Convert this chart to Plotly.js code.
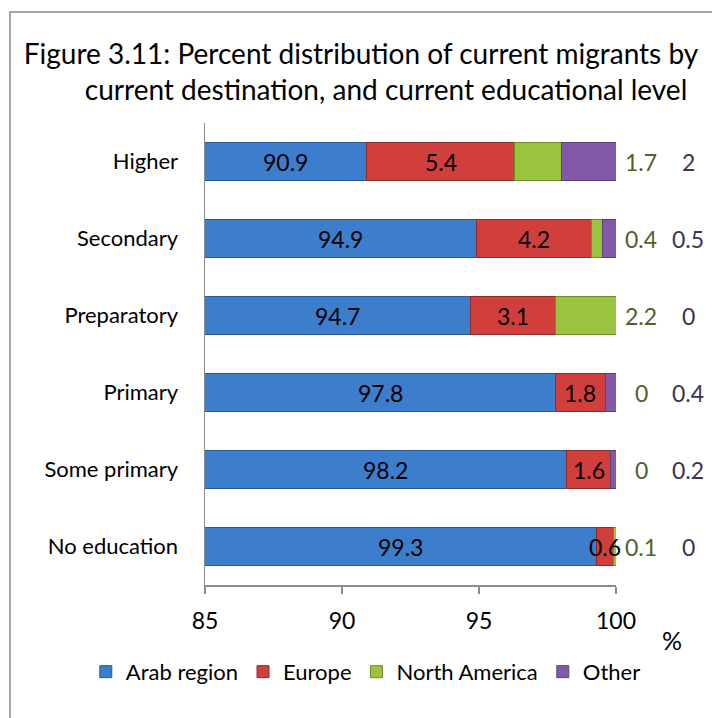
<!DOCTYPE html>
<html>
<head>
<meta charset="utf-8">
<script src="https://cdn.plot.ly/plotly-3.0.1.min.js"></script>
<style>
  html, body { margin: 0; padding: 0; background: #fff; }
  #wrap { position: relative; width: 712px; height: 718px; overflow: hidden; }
  #chart { width: 712px; height: 718px; }
  #frame { position: absolute; left: 9px; top: 11px; width: 800px; height: 800px;
           border: 2px solid #a6a6a6; pointer-events: none; }
</style>
</head>
<body>
<div id="wrap">
  <div id="chart"></div>
  <div id="frame"></div>
</div>
<script>
// Categories (top to bottom as shown)
const categories = ["Higher", "Secondary", "Preparatory", "Primary", "Some primary", "No education"];
// Series values (%)
const arabRegion   = [90.9, 94.9, 94.7, 97.8, 98.2, 99.3];
const europe       = [5.4, 4.2, 3.1, 1.8, 1.6, 0.6];
const northAmerica = [1.7, 0.4, 2.2, 0, 0, 0.1];
const other        = [2, 0.5, 0, 0.4, 0.2, 0];
const seriesNames  = ["Arab region", "Europe", "North America", "Other"];
const xTickVals    = [85, 90, 95, 100];
const axisMin = 85, axisMax = 100;

const FONT = "Lato, 'Open Sans', sans-serif";
const colors = ["#3C7DCC", "#D03F3B", "#9BC43E", "#8159A8"];
const lineColors = ["#2C5A94", "#8E2B28", "#6E8C2B", "#5A417A"];
const allSeries = [arabRegion, europe, northAmerica, other];

const traces = allSeries.map((vals, i) => ({
  type: "bar",
  orientation: "h",
  name: seriesNames[i],
  y: categories,
  x: vals,
  marker: { color: colors[i], line: { color: lineColors[i], width: 1 } },
  hoverinfo: "x+name"
}));

const annotations = [];
categories.forEach((c, k) => {
  annotations.push({
    xref: "x", yref: "y", x: (axisMin + arabRegion[k]) / 2, y: c,
    xanchor: "center", yanchor: "middle",
    text: String(arabRegion[k]), showarrow: false,
    font: { family: FONT, size: 23, color: "#000" }
  });
  annotations.push({
    xref: "x", yref: "y", x: arabRegion[k] + europe[k] / 2, y: c,
    xanchor: "center", yanchor: "middle",
    text: String(europe[k]), showarrow: false,
    font: { family: FONT, size: 23, color: "#000" }
  });
  annotations.push({
    xref: "paper", yref: "y", x: 1, y: c, xshift: 25,
    xanchor: "center", yanchor: "middle",
    text: String(northAmerica[k]), showarrow: false,
    font: { family: FONT, size: 23, color: "#4F6228" }
  });
  annotations.push({
    xref: "paper", yref: "y", x: 1, y: c, xshift: 72,
    xanchor: "center", yanchor: "middle",
    text: String(other[k]), showarrow: false,
    font: { family: FONT, size: 23, color: "#3F3151" }
  });
});
annotations.push({
  xref: "paper", yref: "paper", x: 1.136, y: -0.118,
  xanchor: "center", yanchor: "middle",
  text: "%", showarrow: false,
  font: { family: FONT, size: 25, color: "#000" }
});

const NB = "\u00A0";
const layout = {
  width: 712, height: 718,
  margin: { l: 205, r: 96, t: 123, b: 133 },
  paper_bgcolor: "#fff", plot_bgcolor: "#fff",
  barmode: "stack",
  bargap: 0.5,
  showlegend: true,
  font: { family: FONT, color: "#000" },
  title: {
    text: "Figure 3.11: Percent distribution of current migrants by<br>" + NB.repeat(7) + "current destination, and current educational level",
    font: { family: FONT, size: 28, color: "#000" },
    x: 0.507, xref: "container", xanchor: "center",
    y: 0.911, yref: "container", yanchor: "middle"
  },
  xaxis: {
    range: [axisMin, axisMax],
    tickvals: xTickVals,
    ticktext: xTickVals.map(String),
    showgrid: false, zeroline: false,
    showline: true, linecolor: "#8c8c8c", linewidth: 1.5,
    ticks: "outside", ticklen: 7, tickcolor: "#8c8c8c", tickwidth: 1.5,
    ticklabelstandoff: 8,
    tickfont: { family: FONT, size: 23, color: "#000" },
    fixedrange: true
  },
  yaxis: {
    type: "category",
    categoryorder: "array",
    categoryarray: categories,
    autorange: "reversed",
    showgrid: false, zeroline: false,
    showline: true, linecolor: "#8c8c8c", linewidth: 1.5,
    ticks: "",
    ticklabelstandoff: 21,
    tickfont: { family: FONT, size: 22, color: "#000" },
    fixedrange: true
  },
  legend: {
    orientation: "h",
    x: -0.29, xanchor: "left",
    y: -0.188, yanchor: "middle",
    font: { family: FONT, size: 22, color: "#000" },
    traceorder: "normal",
    itemclick: false, itemdoubleclick: false
  },
  annotations: annotations
};

Plotly.newPlot("chart", traces, layout, { displayModeBar: false, staticPlot: true });
</script>
</body>
</html>
